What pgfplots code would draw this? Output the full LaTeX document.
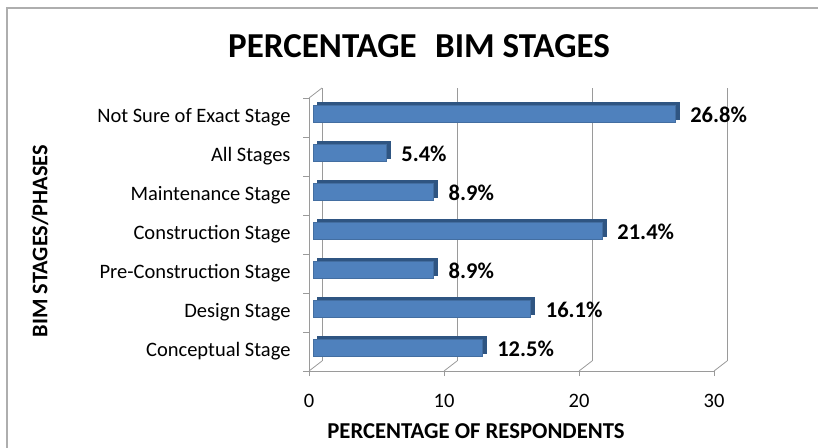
\documentclass[border=0pt]{standalone}
\usepackage{fontspec}
\setmainfont{Carlito}
\usepackage{pgfplots}
\pgfplotsset{compat=1.18}
\definecolor{barface}{HTML}{4F81BD}
\definecolor{barside}{HTML}{2F5582}
\definecolor{gridc}{HTML}{9A9A9A}
\pgfplotstableread{
y v
0 12.5
1 16.1
2 8.9
3 21.4
4 8.9
5 5.4
6 26.8
}\datatable
\begin{document}
\begin{tikzpicture}[x=1bp,y=1bp]
\useasboundingbox (0,0) rectangle (818,-448);
\draw[gridc!80, line width=1.3bp] (7,-448) -- (7,-8) -- (818,-8);
\begin{axis}[
  at={(309bp,-371bp)}, anchor=south west, scale only axis,
  width=405bp, height=273bp,
  xmin=0, xmax=30, ymin=-0.5, ymax=6.5,
  xbar, bar width=17bp,
  axis x line*=bottom, axis y line*=left,
  axis line style={gridc, line width=0.8bp},
  /pgf/number format/assume math mode=true,
  xtick={0,10,20,30},
  xticklabel style={font=\fontsize{20.5bp}{24bp}\selectfont, yshift=-15bp},
  x tick style={gridc, line width=0.8bp},
  tick align=outside, major tick length=5bp,
  ytick={0,...,6},
  yticklabels={Conceptual Stage, Design Stage, Pre-Construction Stage, Construction Stage, Maintenance Stage, All Stages, Not Sure of Exact Stage},
  yticklabel style={font=\fontsize{20.5bp}{24bp}\selectfont, xshift=-10bp},
  y tick style={draw=none},
  extra y ticks={-0.5,0.5,1.5,2.5,3.5,4.5,5.5,6.5},
  extra y tick labels={},
  extra y tick style={y tick style={draw=gridc, line width=0.8bp}, major tick length=6bp, tick align=outside},
  xmajorgrids,
  major grid style={gridc, line width=0.8bp, xshift=13bp, yshift=10bp},
  clip=false,
]
\draw[gridc, line width=0.8bp] (axis cs:0,-0.5) -- ++(13bp,10bp);
\draw[gridc, line width=0.8bp] (axis cs:10,-0.5) -- ++(13bp,10bp);
\draw[gridc, line width=0.8bp] (axis cs:20,-0.5) -- ++(13bp,10bp);
\draw[gridc, line width=0.8bp] (axis cs:30,-0.5) -- ++(13bp,10bp);
\draw[gridc, line width=0.8bp] (axis cs:0,6.5) -- ++(13bp,10bp);
\addplot[fill=barside, draw=barside, xshift=8bp, yshift=6.5bp, bar shift=0pt] table[x=v, y=y] {\datatable};
\addplot[fill=barface, draw=barface!85!black, xshift=4bp, yshift=4bp, bar shift=0pt,
  nodes near coords={\pgfmathprintnumber[fixed,fixed zerofill,precision=1]{\pgfplotspointmeta}\%},
  nodes near coords style={anchor=west, xshift=12bp, yshift=-1bp, font=\bfseries\fontsize{22.5bp}{26bp}\selectfont, text=black}
] table[x=v, y=y] {\datatable};
\end{axis}
\node[font=\bfseries\fontsize{35bp}{40bp}\selectfont] at (419,-46) {PERCENTAGE\hspace{0.3em} BIM STAGES};
\node[rotate=90, font=\bfseries\fontsize{22.3bp}{26bp}\selectfont] at (40,-241) {BIM STAGES/PHASES};
\node[font=\bfseries\fontsize{22.7bp}{26bp}\selectfont] at (476,-431) {PERCENTAGE OF RESPONDENTS};
\end{tikzpicture}
\end{document}
